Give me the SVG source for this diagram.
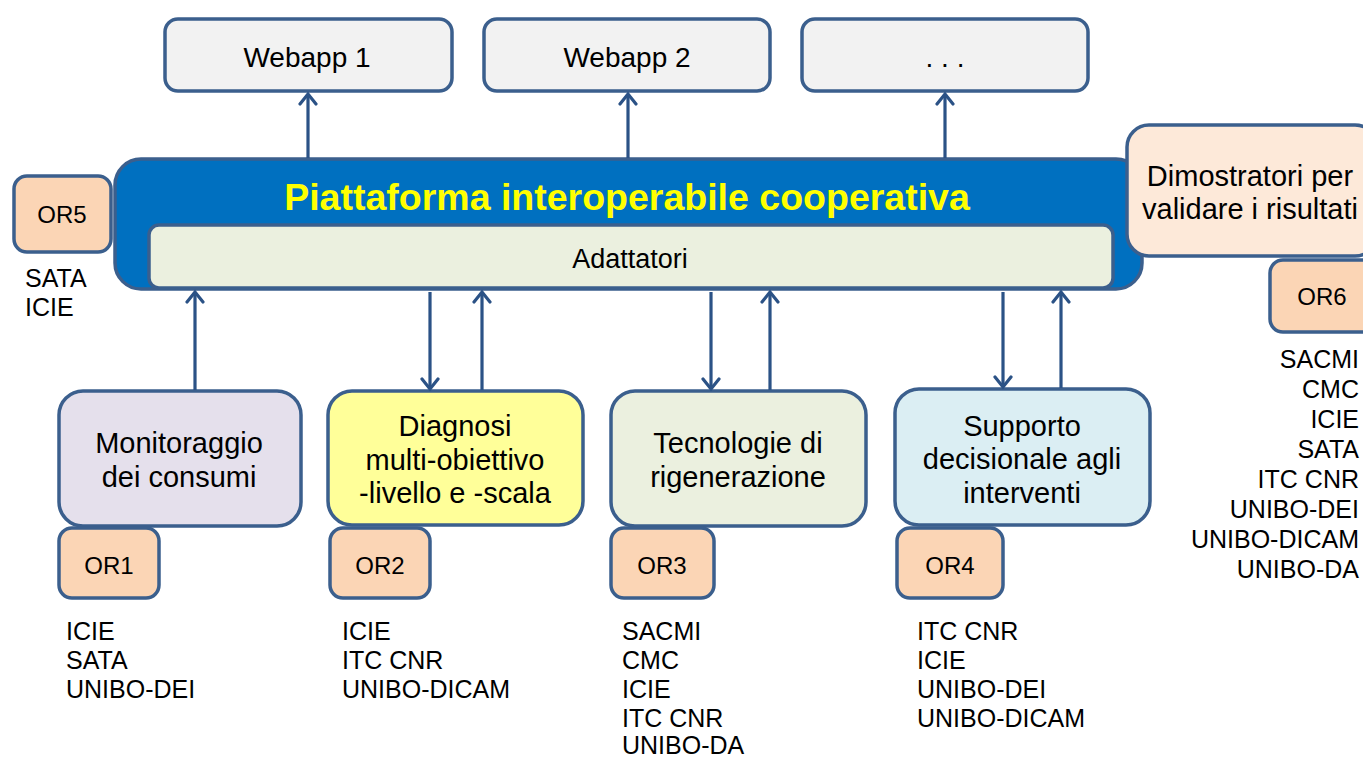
<svg xmlns="http://www.w3.org/2000/svg" width="1363" height="758" viewBox="0 0 1363 758">
<defs>
<marker id="arr" viewBox="-12 -12 24 24" markerWidth="24" markerHeight="24" markerUnits="userSpaceOnUse" orient="auto" refX="0" refY="0">
<path d="M-10,-8 L0,0 L-10,8" fill="none" stroke="#2b5286" stroke-width="3.2" stroke-linecap="round" stroke-linejoin="miter"/>
</marker>
</defs>
<style>
.bx{stroke:#3b5f8d;stroke-width:3.5}
.t{font-family:"Liberation Sans",Arial,sans-serif;font-size:29px;fill:#000;text-anchor:middle}
.o{font-family:"Liberation Sans",Arial,sans-serif;font-size:24px;fill:#000;text-anchor:middle}
.l{font-family:"Liberation Sans",Arial,sans-serif;font-size:25px;fill:#000}
.r{text-anchor:end}
.c{stroke:#2b5286;stroke-width:3.2;fill:none;marker-end:url(#arr)}
</style>
<rect width="1363" height="758" fill="#fff"/>

<g id="webapp1"><rect class="bx" x="165" y="19" width="287" height="72" rx="13" fill="#f2f2f2"/><text class="t" x="307" y="67" style="font-size:28px">Webapp 1</text></g>
<g id="webapp2"><rect class="bx" x="484" y="19" width="286" height="72" rx="13" fill="#f2f2f2"/><text class="t" x="627" y="67" style="font-size:28px">Webapp 2</text></g>
<g id="webapp3"><rect class="bx" x="802" y="19" width="286" height="72" rx="13" fill="#f2f2f2"/><text class="t" x="945" y="67" style="font-size:28px">. . .</text></g>

<g id="piattaforma">
<rect class="bx" x="115" y="159" width="1027" height="130" rx="26" fill="#0070c0"/>
<text x="627" y="210" font-family="'Liberation Sans',Arial,sans-serif" font-size="37.5" font-weight="bold" fill="#ffff00" text-anchor="middle">Piattaforma interoperabile cooperativa</text>
</g>
<g id="adattatori">
<rect class="bx" x="149" y="225" width="964" height="63" rx="10" fill="#ebf0df"/>
<text class="t" x="630" y="268" style="font-size:27px">Adattatori</text>
</g>

<g id="or5"><rect class="bx" x="14" y="176" width="97" height="76" rx="13" fill="#fbd5b5"/><text class="o" x="62" y="223">OR5</text></g>
<g id="or5-list"><text class="l" x="25" y="287">SATA</text><text class="l" x="25" y="316">ICIE</text></g>

<g id="dimostratori">
<rect class="bx" x="1127" y="125" width="250" height="131" rx="22" fill="#fde9d9"/>
<text class="t" x="1250" y="186">Dimostratori per</text>
<text class="t" x="1250" y="219">validare i risultati</text>
</g>
<g id="or6"><rect class="bx" x="1270" y="260" width="110" height="72" rx="13" fill="#fbd5b5"/><text class="o" x="1322" y="305">OR6</text></g>
<g id="or6-list">
<text class="l r" x="1359" y="368">SACMI</text>
<text class="l r" x="1359" y="398">CMC</text>
<text class="l r" x="1359" y="428">ICIE</text>
<text class="l r" x="1359" y="458">SATA</text>
<text class="l r" x="1359" y="488">ITC CNR</text>
<text class="l r" x="1359" y="518">UNIBO-DEI</text>
<text class="l r" x="1359" y="548">UNIBO-DICAM</text>
<text class="l r" x="1359" y="578">UNIBO-DA</text>
</g>

<g id="monitoraggio">
<rect class="bx" x="59" y="391" width="242" height="135" rx="24" fill="#e5e0ec"/>
<text class="t" x="179" y="453">Monitoraggio</text>
<text class="t" x="179" y="487">dei consumi</text>
</g>
<g id="or1"><rect class="bx" x="59" y="528" width="100" height="70" rx="13" fill="#fbd5b5"/><text class="o" x="109" y="574">OR1</text></g>
<g id="or1-list"><text class="l" x="66" y="640">ICIE</text><text class="l" x="66" y="669">SATA</text><text class="l" x="66" y="698">UNIBO-DEI</text></g>

<g id="diagnosi">
<rect class="bx" x="328" y="391" width="255" height="134" rx="24" fill="#ffff99"/>
<text class="t" x="455" y="436">Diagnosi</text>
<text class="t" x="455" y="470">multi-obiettivo</text>
<text class="t" x="455" y="503">-livello e -scala</text>
</g>
<g id="or2"><rect class="bx" x="330" y="528" width="100" height="70" rx="13" fill="#fbd5b5"/><text class="o" x="380" y="574">OR2</text></g>
<g id="or2-list"><text class="l" x="342" y="640">ICIE</text><text class="l" x="342" y="669">ITC CNR</text><text class="l" x="342" y="698">UNIBO-DICAM</text></g>

<g id="tecnologie">
<rect class="bx" x="611" y="391" width="255" height="135" rx="24" fill="#ebf0df"/>
<text class="t" x="738" y="453">Tecnologie di</text>
<text class="t" x="738" y="487">rigenerazione</text>
</g>
<g id="or3"><rect class="bx" x="611" y="528" width="103" height="70" rx="13" fill="#fbd5b5"/><text class="o" x="662" y="574">OR3</text></g>
<g id="or3-list"><text class="l" x="622" y="640">SACMI</text><text class="l" x="622" y="669">CMC</text><text class="l" x="622" y="698">ICIE</text><text class="l" x="622" y="727">ITC CNR</text><text class="l" x="622" y="754">UNIBO-DA</text></g>

<g id="supporto">
<rect class="bx" x="895" y="389" width="255" height="136" rx="24" fill="#dbeef3"/>
<text class="t" x="1022" y="436">Supporto</text>
<text class="t" x="1022" y="469">decisionale agli</text>
<text class="t" x="1022" y="503">interventi</text>
</g>
<g id="or4"><rect class="bx" x="897" y="528" width="106" height="70" rx="13" fill="#fbd5b5"/><text class="o" x="950" y="574">OR4</text></g>
<g id="or4-list"><text class="l" x="917" y="640">ITC CNR</text><text class="l" x="917" y="669">ICIE</text><text class="l" x="917" y="698">UNIBO-DEI</text><text class="l" x="917" y="727">UNIBO-DICAM</text></g>

<g id="connectors">
<line class="c" x1="308" y1="158" x2="308" y2="94"/>
<line class="c" x1="628" y1="158" x2="628" y2="94"/>
<line class="c" x1="945" y1="158" x2="945" y2="94"/>
<line class="c" x1="195" y1="390" x2="195" y2="292"/>
<line class="c" x1="430" y1="292" x2="430" y2="389"/>
<line class="c" x1="482" y1="390" x2="482" y2="292"/>
<line class="c" x1="711" y1="292" x2="711" y2="389"/>
<line class="c" x1="770" y1="390" x2="770" y2="292"/>
<line class="c" x1="1003" y1="292" x2="1003" y2="387"/>
<line class="c" x1="1061" y1="388" x2="1061" y2="292"/>
</g>
</svg>
